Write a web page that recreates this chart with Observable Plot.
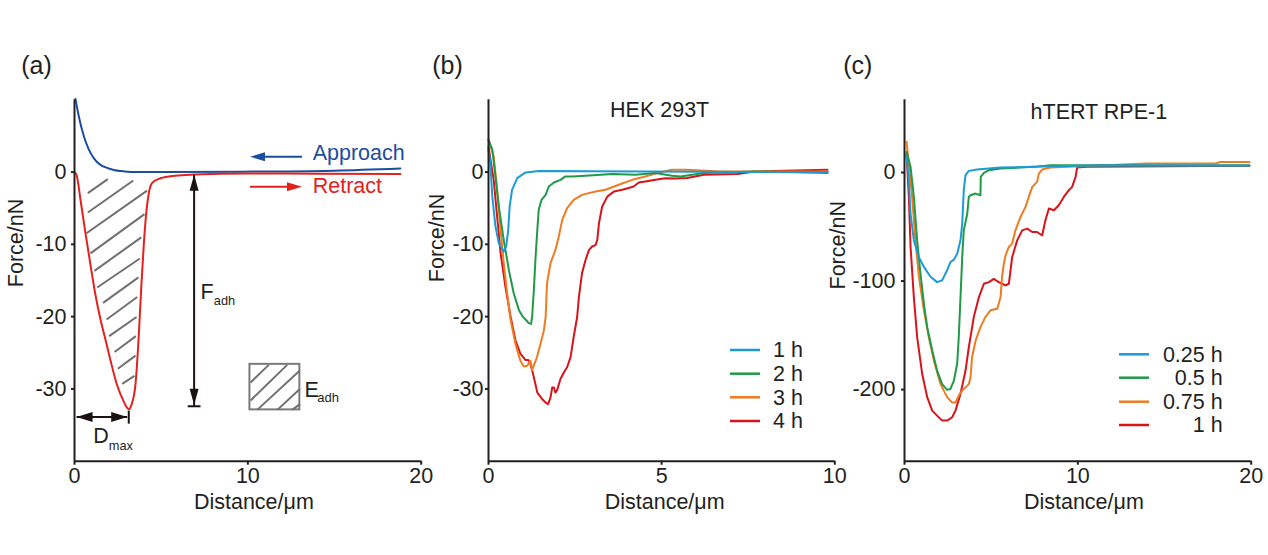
<!DOCTYPE html>
<html><head><meta charset="utf-8">
<script src="https://cdn.jsdelivr.net/npm/d3@7"></script>
<script src="https://cdn.jsdelivr.net/npm/@observablehq/plot@0.6"></script>
<style>
body{margin:0;background:#fff;}
#root{position:relative;width:1268px;height:555px;overflow:hidden;font-family:"Liberation Sans",Arial,sans-serif;}
.panel{position:absolute;top:0;}
.panel svg{overflow:visible;background:transparent;}
#overlay{position:absolute;left:0;top:0;pointer-events:none;}
</style></head><body><div id="root"></div>
<script>
// ---------- DATA ----------
// Panel (a): schematic curves
const approachA = [[0.06,10.1],[0.25,7.7],[0.54,4.95],[0.83,3.1],[1.12,1.9],[1.5,1.0],[1.69,0.75],[2.08,0.42],[2.27,0.3],[2.65,0.14],[3.04,0.06],[3.5,0.02],[5.35,0],[9.6,0.05],[11.1,0.08],[15,0.2],[18.8,0.5]];
const retractA = [[0,0],[0.12,-0.4],[0.35,-3.9],[0.63,-8.4],[0.92,-12.8],[1.21,-17.0],[1.5,-20.4],[1.8,-23.3],[2.08,-26.1],[2.46,-29.5],[2.85,-31.8],[3.0,-32.5],[3.13,-32.8],[3.3,-32.1],[3.52,-29.3],[3.71,-22.5],[3.85,-16.0],[4.0,-9.9],[4.15,-5.4],[4.28,-3.0],[4.48,-1.5],[4.96,-0.85],[5.8,-0.5],[6.9,-0.35],[10,-0.2],[14,-0.22],[18.8,-0.26]];
// hatch segments inside the adhesion area: [x1,y1,x2,y2]
const hatchA = [[0.77,-2.92,1.92,-0.97],[0.77,-5.6,3.39,-1.17],[0.69,-8.47,4.19,-2.56],[0.92,-11.25,4.04,-5.82],[1.15,-13.67,3.85,-9.03],[1.31,-15.97,3.77,-11.96],[1.65,-18.1,3.69,-14.57],[1.85,-20.4,3.62,-17.28],[2.0,-22.7,3.58,-20.05],[2.31,-24.9,3.54,-22.7],[2.5,-27.2,3.52,-25.4],[2.75,-29.3,3.46,-28.2]];
// E_adh key box [x1,x2,y1,y2] and its hatch
const eBox = [[10.12,13.0,-26.6,-32.9]];
const eHatch = [[10.16,-29.1,11.21,-26.67],[10.16,-31.6,12.27,-26.67],[10.54,-32.9,13.0,-27.46],[11.7,-32.9,13.0,-30.0],[12.56,-32.9,13.0,-32.1]];
// F_adh arrow [x, top, bottom, barHalfWidth], D_max arrow [y, left, right, tickTop, tickBottom]
const fAdh = [6.9, -0.37, -32.4, 0.37];
const dMax = [-33.9, 0.12, 3.04, -33.0, -34.8];
// annotation labels [text, x, y, fontSize]
const annA = [["F",7.27,-16.57,21.5],["adh",8.04,-17.85,12.8],["E",13.27,-30.14,21.5],["adh",14.0,-31.28,13],["D",1.08,-36.49,21.5],["max",1.98,-37.85,12.8]];

// Panel (b): HEK 293T
const b1h = [[0,3.1],[0.05,1.5],[0.11,-3.4],[0.2,-7.5],[0.3,-9.9],[0.44,-11.0],[0.51,-10.3],[0.57,-8.0],[0.61,-4.8],[0.68,-2.45],[0.83,-0.84],[1.07,-0.05],[1.45,0.15],[3,0.1],[6,0.05],[9.8,0]];
const b2h = [[0,4.5],[0.11,3.1],[0.2,-0.6],[0.3,-4.8],[0.44,-9.4],[0.59,-13.6],[0.73,-16.8],[0.88,-19.1],[0.99,-20.0],[1.09,-20.5],[1.16,-20.9],[1.23,-21.0],[1.26,-20.0],[1.31,-16.3],[1.36,-11.7],[1.41,-8.0],[1.45,-5.2],[1.53,-3.85],[1.65,-3.15],[1.74,-2.0],[1.89,-1.44],[2.08,-1.07],[2.22,-0.6],[2.42,-0.6],[2.8,-0.51],[3.57,-0.28],[4.24,-0.38],[4.82,-0.14],[5.3,-0.51],[5.55,-0.6],[6.22,-0.14],[7.67,0.09],[9.79,-0.14]];
const b3h = [[0,4.5],[0.15,2.2],[0.25,-2.45],[0.35,-8.0],[0.44,-12.6],[0.54,-16.8],[0.64,-20.5],[0.78,-23.8],[0.92,-26.1],[1.02,-26.9],[1.12,-26.8],[1.21,-26.1],[1.26,-27.4],[1.4,-25.6],[1.5,-23.8],[1.6,-21.9],[1.65,-20.05],[1.69,-15.4],[1.79,-12.6],[1.93,-10.8],[2.03,-8.9],[2.13,-6.6],[2.27,-5.0],[2.46,-3.85],[2.7,-3.15],[3.09,-2.7],[3.38,-2.45],[3.76,-1.76],[4.15,-1.07],[4.53,-0.6],[4.92,-0.05],[5.3,0.32],[5.74,0.32],[6.7,0.09],[9.79,0.09]];
const b4h = [[0,3.5],[0.15,-1.07],[0.25,-6.2],[0.35,-11.25],[0.49,-15.9],[0.64,-20.05],[0.78,-23.3],[0.92,-25.1],[1.07,-26.0],[1.15,-26.0],[1.21,-26.5],[1.31,-28.4],[1.41,-30.5],[1.55,-31.4],[1.65,-31.9],[1.72,-32.1],[1.79,-31.2],[1.84,-29.8],[1.89,-29.8],[1.93,-30.5],[1.98,-30.2],[2.08,-28.6],[2.18,-27.7],[2.27,-27.0],[2.37,-25.6],[2.46,-22.8],[2.56,-20.05],[2.61,-17.3],[2.7,-14.0],[2.8,-12.2],[2.9,-10.8],[2.99,-10.3],[3.09,-10.1],[3.14,-9.4],[3.19,-7.1],[3.28,-4.8],[3.43,-3.4],[3.62,-2.7],[3.86,-2.45],[4.05,-2.2],[4.19,-2.0],[4.34,-1.44],[4.53,-1.3],[4.82,-1.07],[5.11,-0.84],[5.4,-0.88],[5.74,-0.83],[6.22,-0.37],[7.19,-0.28],[7.67,0.09],[9.79,0.32]];

// Panel (c): hTERT RPE-1
const c025h = [[0.12,15],[0.25,-7],[0.35,-38],[0.54,-62.5],[0.83,-78],[1.12,-87],[1.5,-96],[1.88,-101],[2.17,-99.4],[2.46,-90],[2.65,-82.5],[2.85,-80.3],[3.04,-74.8],[3.23,-62.5],[3.33,-47],[3.42,-16.3],[3.52,-2.5],[3.71,1.5],[4.19,2.7],[5.54,4.6],[7.46,5.2],[11.3,6.7],[19.9,6.5]];
const c05h = [[0.12,19],[0.35,5.2],[0.54,-22.5],[0.73,-62.5],[0.92,-93],[1.12,-121],[1.31,-142.5],[1.6,-164],[1.88,-182.5],[2.17,-195],[2.46,-200.3],[2.65,-199.4],[2.85,-191.7],[3.04,-176],[3.13,-151.7],[3.23,-115],[3.33,-78],[3.42,-53.3],[3.62,-38],[3.71,-22.5],[3.81,-21],[4.1,-19.4],[4.38,-21],[4.4,-4],[4.58,-0.3],[4.87,2.1],[5.54,3.7],[7.46,5.2],[8.42,6.7],[19.9,6.5]];
const c075h = [[0.12,28.3],[0.25,8.3],[0.44,-22.5],[0.63,-62.5],[0.83,-96],[1.12,-127],[1.4,-151.7],[1.69,-173],[2.08,-195],[2.46,-207],[2.75,-212],[2.94,-212],[3.13,-205.6],[3.33,-201],[3.52,-198],[3.71,-195],[3.81,-188.6],[3.9,-170],[4.1,-155],[4.38,-142.5],[4.67,-133],[4.96,-127],[5.35,-125.6],[5.54,-115],[5.63,-96],[5.73,-84],[5.83,-76.3],[6.02,-68.6],[6.21,-65.5],[6.4,-53.3],[6.69,-41],[6.98,-31.7],[7.17,-22.5],[7.37,-13.2],[7.65,-8.6],[7.75,-1],[7.94,2.7],[8.42,4.6],[14,8.3],[18,8.3],[18.2,9.8],[19.9,9.8]];
const c1h = [[0.12,17.5],[0.25,-22.5],[0.35,-68.6],[0.54,-115],[0.73,-151.7],[1.02,-185.5],[1.31,-207],[1.6,-219.4],[1.88,-224],[2.17,-228.6],[2.46,-228.6],[2.75,-225.5],[2.94,-219.4],[3.23,-204],[3.52,-182.5],[3.71,-161],[4.0,-133],[4.29,-115],[4.58,-102.5],[4.87,-101],[5.15,-98],[5.44,-101],[5.63,-102.5],[5.83,-104],[6.02,-102.5],[6.21,-78],[6.5,-62.5],[6.79,-53.3],[7.08,-51.7],[7.37,-54.8],[7.65,-54.8],[7.94,-58],[8.13,-44],[8.33,-33.2],[8.62,-34.8],[8.9,-30.2],[9.19,-22.5],[9.48,-16.3],[9.67,-13.2],[9.87,-4],[9.96,4.6],[10.5,5.2],[19.9,6.2]];

// ticks & labels
const xTicksA = [0,10,20], yTicksA = [0,-10,-20,-30];
const xTicksB = [0,5,10],  yTicksB = [0,-10,-20,-30];
const xTicksC = [0,10,20], yTicksC = [0,-100,-200];
const legendB = ["1 h","2 h","3 h","4 h"];
const legendC = ["0.25 h","0.5 h","0.75 h","1 h"];
const legendA = ["Approach","Retract"];

// ---------- STYLE ----------
const FONT = '"Liberation Sans", Arial, sans-serif';
const INK = "#231f20";
const BLUE_A = "#1d4d9f", RED_A = "#e4211d";
const PAL = ["#1c9ad6","#1f9a48","#ef7b22","#d7141c"];
const GRAY = "#707070";

const triangle = (dir, L = 16, W = 4.5) => ({draw(ctx) {
  const pts = {up:[[0,0],[W,L],[-W,L]], down:[[0,0],[W,-L],[-W,-L]], left:[[0,0],[L,W],[L,-W]], right:[[0,0],[-L,W],[-L,-W]]}[dir];
  ctx.moveTo(...pts[0]); ctx.lineTo(...pts[1]); ctx.lineTo(...pts[2]); ctx.closePath();
}});

function panel({left, width, marginRight, xDomain, xTicks, yDomain, yTicks, yPad, label, labelDx, title, titleDx, titleDy, yTitleDx, yTitleDy, xTitleDx, marks}) {
  const all = [
    Plot.axisX({ticks: xTicks, tickFormat: d => String(d), tickSize: 4, tickPadding: 3, fontSize: 21.5, label: null, strokeWidth: 2}),
    Plot.axisY({ticks: yTicks, tickFormat: d => String(d), tickSize: 3, tickPadding: yPad, fontSize: 21.5, label: null, strokeWidth: 2}),
    ...marks,
    Plot.ruleX([xDomain[0]], {stroke: INK, strokeWidth: 2}),
    Plot.ruleY([yDomain[0]], {stroke: INK, strokeWidth: 2}),
    Plot.text([label], {text: d => d, frameAnchor: "top-left", dx: labelDx, dy: -33.7, textAnchor: "start", lineAnchor: "middle", fontSize: 25}),
    Plot.text(["Distance/μm"], {text: d => d, frameAnchor: "bottom", dx: xTitleDx, dy: 40.5, lineAnchor: "middle", fontSize: 21.5}),
    Plot.text(["Force/nN"], {text: d => d, frameAnchor: "left", dx: yTitleDx, dy: yTitleDy, rotate: -90, lineAnchor: "middle", fontSize: 21.5})
  ];
  if (title) all.push(Plot.text([title], {text: d => d, frameAnchor: "top", dx: titleDx, dy: titleDy, lineAnchor: "middle", fontSize: 21.5}));
  const svg = Plot.plot({
    width, height: 555, marginLeft: 74, marginRight, marginTop: 99.3, marginBottom: 94.3,
    style: {fontFamily: FONT, background: "transparent", overflow: "visible", color: INK},
    x: {domain: xDomain}, y: {domain: yDomain},
    marks: all
  });
  const div = document.createElement("div");
  div.className = "panel"; div.style.left = left + "px";
  div.appendChild(svg);
  document.getElementById("root").appendChild(div);
}

const line = (data, stroke, curve = "linear") => Plot.line(data, {x: d => d[0], y: d => d[1], stroke, strokeWidth: 2, curve, strokeLinejoin: "round"});

// ---------- PANEL A ----------
panel({
  left: 0, width: 430, marginRight: 9.3, xDomain: [0,20], xTicks: xTicksA, yDomain: [-40,10], yTicks: yTicksA, yPad: 5,
  label: "(a)", labelDx: -53.3, yTitleDx: -58, yTitleDy: 6.7, xTitleDx: 6,
  marks: [
    Plot.link(hatchA, {x1: d => d[0], y1: d => d[1], x2: d => d[2], y2: d => d[3], stroke: GRAY, strokeWidth: 2}),
    Plot.rect(eBox, {x1: d => d[0], x2: d => d[1], y1: d => d[2], y2: d => d[3], fill: "none", stroke: "#7a7a7a", strokeWidth: 2}),
    Plot.link(eHatch, {x1: d => d[0], y1: d => d[1], x2: d => d[2], y2: d => d[3], stroke: GRAY, strokeWidth: 2}),
    line(approachA, BLUE_A, "monotone-x"),
    line(retractA, RED_A, "monotone-x"),
    // F_adh arrow
    Plot.link([fAdh], {x1: d => d[0], x2: d => d[0], y1: d => d[1], y2: d => d[2], stroke: "#1a1311", strokeWidth: 2}),
    Plot.link([fAdh], {x1: d => d[0] - d[3], x2: d => d[0] + d[3], y1: d => d[2], y2: d => d[2], stroke: "#1a1311", strokeWidth: 2}),
    Plot.dot([fAdh], {x: d => d[0], y: d => d[1], symbol: triangle("up"), fill: "#1a1311", stroke: "none", r: 5}),
    Plot.dot([fAdh], {x: d => d[0], y: d => d[2], symbol: triangle("down"), fill: "#1a1311", stroke: "none", r: 5, dy: -1.5}),
    // D_max arrow
    Plot.link([dMax], {x1: d => d[1], x2: d => d[2], y1: d => d[0], y2: d => d[0], stroke: "#1a1311", strokeWidth: 2}),
    Plot.link([dMax], {x1: d => d[2] + 0.09, x2: d => d[2] + 0.09, y1: d => d[3], y2: d => d[4], stroke: "#1a1311", strokeWidth: 2}),
    Plot.dot([dMax], {x: d => d[1], y: d => d[0], symbol: triangle("left", 16, 5), fill: "#1a1311", stroke: "none", r: 5}),
    Plot.dot([dMax], {x: d => d[2], y: d => d[0], symbol: triangle("right", 16, 5), fill: "#1a1311", stroke: "none", r: 5}),
    Plot.text(annA, {x: d => d[1], y: d => d[2], text: d => d[0], fontSize: d => d[3], textAnchor: "start", lineAnchor: "middle", fill: INK})
  ]
});

// ---------- PANEL B ----------
panel({
  left: 414, width: 430, marginRight: 9.7, xDomain: [0,10], xTicks: xTicksB, yDomain: [-40,10], yTicks: yTicksB, yPad: 2,
  label: "(b)", labelDx: -56.3, yTitleDx: -51.3, yTitleDy: 1.7, xTitleDx: 3,
  title: "HEK 293T", titleDx: -2, titleDy: 10.5,
  marks: [line(b4h, PAL[3]), line(b3h, PAL[2]), line(b2h, PAL[1]), line(b1h, PAL[0])]
});

// ---------- PANEL C ----------
panel({
  left: 830, width: 438, marginRight: 17.3, xDomain: [0,20], xTicks: xTicksC, yDomain: [-266,67], yTicks: yTicksC, yPad: 6,
  label: "(c)", labelDx: -61.3, yTitleDx: -66.5, yTitleDy: 9, xTitleDx: 6,
  title: "hTERT RPE-1", titleDx: 21, titleDy: 12.1,
  marks: [line(c1h, PAL[3]), line(c075h, PAL[2]), line(c05h, PAL[1]), line(c025h, PAL[0])]
});

// ---------- LEGENDS (overlay) ----------
const ov = d3.select("#root").append("svg").attr("id","overlay").attr("width",1268).attr("height",555)
  .style("font-family", FONT).style("font-size","21.5px");
// (a) approach / retract
const aRows = [{t: legendA[0], c: BLUE_A, y: 156.7, ty: 160, dir: "left"}, {t: legendA[1], c: RED_A, y: 186.7, ty: 192.7, dir: "right"}];
aRows.forEach(r => {
  if (r.dir === "left") {
    ov.append("line").attr("x1",263).attr("x2",302).attr("y1",r.y).attr("y2",r.y).attr("stroke",r.c).attr("stroke-width",2);
    ov.append("path").attr("d",`M250,${r.y}L265,${r.y-4.5}L265,${r.y+4.5}Z`).attr("fill",r.c);
  } else {
    ov.append("line").attr("x1",250).attr("x2",289).attr("y1",r.y).attr("y2",r.y).attr("stroke",r.c).attr("stroke-width",2);
    ov.append("path").attr("d",`M302,${r.y}L287,${r.y-4.5}L287,${r.y+4.5}Z`).attr("fill",r.c);
  }
  ov.append("text").attr("x",312.7).attr("y",r.ty).attr("fill",r.c).text(r.t);
});
// (b)
const bYs = [350, 373.7, 397.3, 421];
legendB.forEach((t,i) => {
  ov.append("line").attr("x1",730).attr("x2",760).attr("y1",bYs[i]).attr("y2",bYs[i]).attr("stroke",PAL[i]).attr("stroke-width",2.5);
  ov.append("text").attr("x",773).attr("y",bYs[i]+7.3).attr("fill",INK).text(t);
});
// (c)
const cYs = [354.3, 377.7, 401.7, 425];
legendC.forEach((t,i) => {
  ov.append("line").attr("x1",1119).attr("x2",1149).attr("y1",cYs[i]).attr("y2",cYs[i]).attr("stroke",PAL[i]).attr("stroke-width",2.5);
  ov.append("text").attr("x",1222.7).attr("y",cYs[i]+7.3).attr("text-anchor","end").attr("fill",INK).text(t);
});
</script></body></html>
